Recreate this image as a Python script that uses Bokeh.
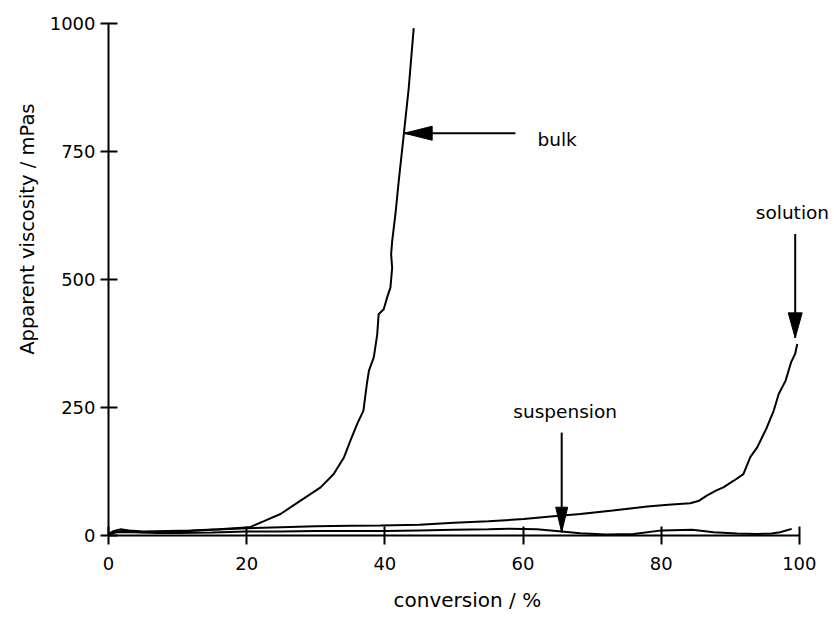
from bokeh.plotting import figure
from bokeh.models import Range1d, FixedTicker, Arrow, Label, Title
from bokeh.embed import file_html
from bokeh.resources import INLINE

# ---- data ----
bulk_x = [0, 0.8, 1.7, 3, 5, 8.5, 12, 16, 20.4, 22.5, 24.9, 27.8, 30.7, 32.6, 34.1,
          35.0, 36.0, 36.9, 37.4, 37.7, 38.4, 38.9, 39.1, 39.84, 40.33, 40.81, 41.06,
          40.91, 41.06, 41.29, 41.53, 42.01, 42.74, 43.46, 44.18]
bulk_y = [3, 9, 12, 10, 8, 9, 10, 12, 16, 28, 42, 68, 94, 120, 153,
          185, 218, 244, 296, 322, 348, 393, 432, 442, 465, 484, 523,
          549, 575, 601, 627, 692, 783, 874, 991]

solution_x = [0, 1, 2, 5, 10, 15, 20, 25, 30, 35, 39.4, 45, 50, 55, 60.1, 64, 68.3,
              73, 78, 81, 84.2, 85.5, 86.6, 88, 89, 90.5, 91.9, 92.9, 93.9, 95.3,
              96.3, 97.0, 98.0, 98.8, 99.4, 99.7]
solution_y = [2, 6, 7, 6, 8, 11, 14, 16, 18, 19, 19.5, 21, 25, 28, 32, 37, 42,
              49, 56.5, 60, 63, 68, 78, 88, 94, 107, 120, 153, 172, 211,
              244, 276, 302, 338, 355, 374]

suspension_x = [0, 1, 2, 4, 7, 10, 15, 20, 25, 30, 35, 40, 45, 50, 55, 58, 62, 65.6,
                68.3, 72, 76, 80.1, 84.5, 87.6, 91, 93.9, 96, 97.2, 98.9]
suspension_y = [2, 7, 9, 7, 5, 5, 6, 8, 8, 9, 9, 9, 10, 11, 12, 13, 12, 8,
                4.5, 2, 3, 10, 11, 6.5, 4, 3, 4, 6.5, 13]

x_ticks = [0, 20, 40, 60, 80, 100]
y_ticks = [0, 250, 500, 750, 1000]

FONT = "DejaVu Sans"

W, H = 834, 625
LEFT, TOP, BOTTOM = 108, 23, 90
X_END = 104.8
FRAME_W = 724
RIGHT = W - LEFT - FRAME_W
FRAME_H = H - TOP - BOTTOM

p = figure(width=W, height=H,
           x_range=Range1d(0, X_END), y_range=Range1d(0, 1000),
           output_backend="svg", toolbar_location=None,
           min_border_left=LEFT, min_border_right=RIGHT,
           min_border_top=TOP, min_border_bottom=BOTTOM)
p.outline_line_color = None
p.grid.visible = False
p.background_fill_color = "white"
p.border_fill_color = "white"

for ax in (p.xaxis[0], p.yaxis[0]):
    ax.axis_line_width = 2
    ax.axis_line_color = "black"
    ax.major_tick_line_width = 2
    ax.major_tick_line_color = "black"
    ax.minor_tick_line_color = None
    ax.major_label_text_font = FONT
    ax.major_label_text_font_size = "18px"
    ax.major_label_text_color = "black"

p.xaxis[0].ticker = FixedTicker(ticks=x_ticks)
p.yaxis[0].ticker = FixedTicker(ticks=y_ticks)
p.xaxis[0].bounds = (0, 100)
p.xaxis[0].major_tick_in = 9
p.xaxis[0].major_tick_out = 9
p.xaxis[0].major_label_standoff = 12
p.yaxis[0].major_tick_in = 9
p.yaxis[0].major_tick_out = 8
p.yaxis[0].major_label_standoff = 5

# axis titles as side titles (placed outside the frame)
p.add_layout(Title(text="Apparent viscosity / mPas", align="right", offset=80,
                   standoff=15, text_font=FONT, text_font_size="19.5px",
                   text_font_style="normal", text_color="black"), "left")
p.add_layout(Title(text="conversion /  %", align="center", offset=0,
                   standoff=26, text_font=FONT, text_font_size="20px",
                   text_font_style="normal", text_color="black"), "below")

# curves
for xs, ys in ((bulk_x, bulk_y), (solution_x, solution_y), (suspension_x, suspension_y)):
    p.line(xs, ys, line_color="black", line_width=2)

# pixel -> data helpers for arrow heads
PX_X = X_END / FRAME_W
PX_Y = 1000 / FRAME_H

def arrow(x0, y0, x1, y1, direction, length=26, half=7):
    p.add_layout(Arrow(end=None, x_start=x0, y_start=y0, x_end=x1, y_end=y1,
                       line_color="black", line_width=2))
    if direction == "left":
        xs = [x1, x1 + length * PX_X, x1 + length * PX_X]
        ys = [y1, y1 + half * PX_Y, y1 - half * PX_Y]
    else:
        xs = [x1, x1 - half * PX_X, x1 + half * PX_X]
        ys = [y1, y1 + length * PX_Y, y1 + length * PX_Y]
    p.patch(xs, ys, fill_color="black", line_color="black", line_width=1)

arrow(58.9, 785.7, 42.8, 785.7, "left", length=28, half=7)
arrow(65.6, 201, 65.6, 6.4, "down", length=25, half=6)
arrow(99.4, 589, 99.4, 386, "down", length=25, half=7)

def label(x, y, text, align="left", size="18.5px"):
    p.add_layout(Label(x=x, y=y, text=text, text_font=FONT, text_font_size=size,
                       text_color="black", text_align=align,
                       text_baseline="alphabetic"))

label(62.1, 774, "bulk")
label(66.1, 242, "suspension", align="center")
label(99.0, 630, "solution", align="center")

open("out.html", "w").write(file_html(p, INLINE))
